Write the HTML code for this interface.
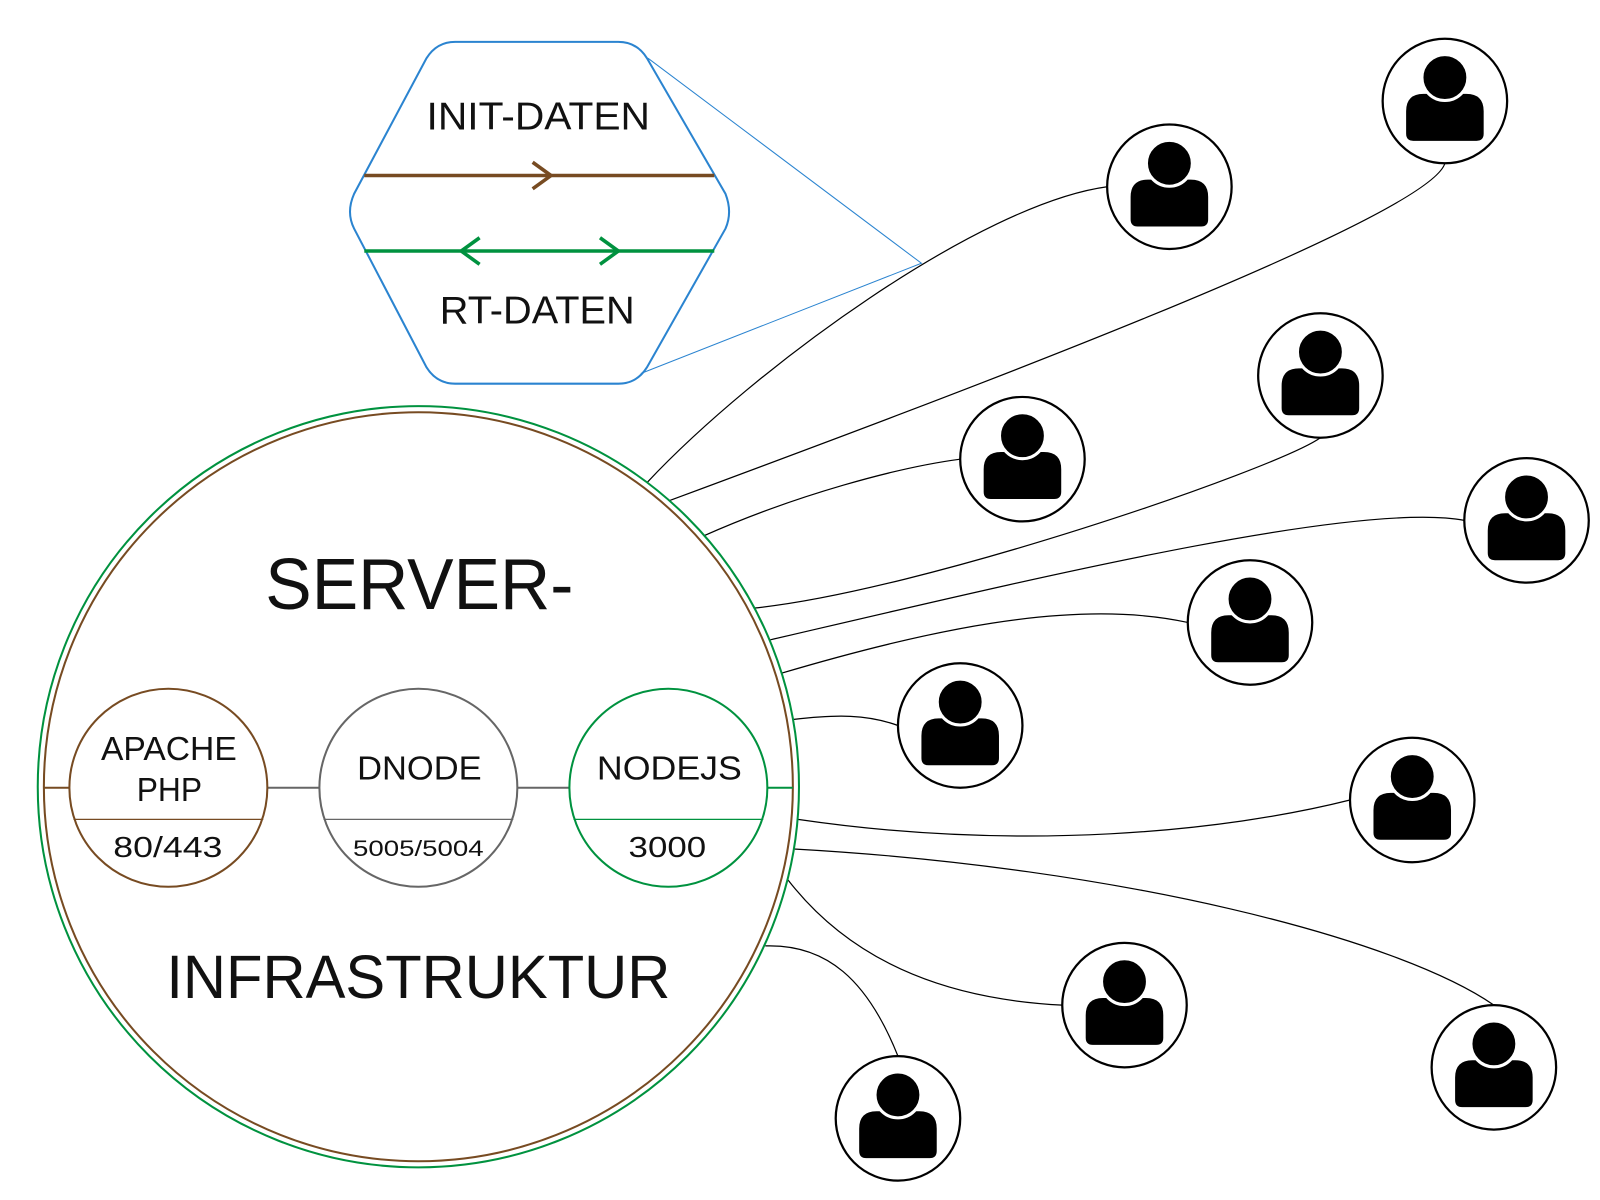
<!DOCTYPE html>
<html><head><meta charset="utf-8"><style>
html,body{margin:0;padding:0;background:#fff;}
svg{display:block;}
text{font-family:"Liberation Sans",sans-serif;fill:#111;}
</style></head><body>
<svg width="1600" height="1200" viewBox="0 0 1568 1176" preserveAspectRatio="none" xmlns="http://www.w3.org/2000/svg">
<defs>
<g id="u">
<circle cx="0" cy="0" r="61" fill="#fff" stroke="#000" stroke-width="2.2"/>
<path d="M-38,34 L-38,10 Q-38,-7 -21,-7 L21,-7 Q38,-7 38,10 L38,32 Q38,39 31,39 L-31,39 Q-38,39 -38,32 Z" fill="#000"/>
<circle cx="0" cy="-23" r="22.5" fill="#000" stroke="#fff" stroke-width="3"/>
</g>
</defs>
<!-- connectors -->
<g fill="none" stroke="#000" stroke-width="1.2">
<path d="M634,473 C740,360 960,200 1085,183"/>
<path d="M655,491 C900,400 1400,215 1416,160"/>
<path d="M690,525 C780,485 880,458 941,450"/>
<path d="M738,596 C900,580 1250,460 1294,429"/>
<path d="M755,627 C1000,570 1330,490 1435,510"/>
<path d="M765,660 C900,620 1050,585 1164,610"/>
<path d="M778,705 C820,700 850,700 880,711"/>
<path d="M782,803 C1000,835 1200,815 1323,784"/>
<path d="M778,832 C1100,850 1370,920 1464,985"/>
<path d="M772,862 C840,950 940,980 1041,985"/>
<path d="M750,927 C810,925 850,960 880,1035"/>
</g>
<!-- hexagon -->
<path d="M446,41 L606,41 Q624,41 634,57 L711,190 Q718,208 711,224 L634,360 Q624,376 606,376 L446,376 Q428,376 418,360 L347,224 Q339,208 347,190 L418,57 Q428,41 446,41 Z" fill="#fff" stroke="#2b84d0" stroke-width="2"/>
<path d="M635,57 L903,258 L628,366" fill="none" stroke="#2b84d0" stroke-width="1"/>
<line x1="357" y1="172" x2="700" y2="172" stroke="#774b22" stroke-width="3.5"/>
<path d="M522,159 L540,172 L522,185" fill="none" stroke="#774b22" stroke-width="3.5"/>
<line x1="357" y1="246" x2="700" y2="246" stroke="#00923f" stroke-width="3.5"/>
<path d="M470,233 L452,246 L470,259 M588,233 L606,246 L588,259" fill="none" stroke="#00923f" stroke-width="3.5"/>
<text x="418" y="127" font-size="38" textLength="219" lengthAdjust="spacingAndGlyphs">INIT-DATEN</text>
<text x="431" y="317" font-size="38" textLength="191" lengthAdjust="spacingAndGlyphs">RT-DATEN</text>
<!-- big circle -->
<circle cx="410" cy="771" r="373" fill="#fff" stroke="#00923f" stroke-width="2"/>
<circle cx="410" cy="771" r="367" fill="none" stroke="#774b22" stroke-width="2"/>
<line x1="43" y1="772" x2="68" y2="772" stroke="#774b22" stroke-width="2"/>
<line x1="262" y1="772" x2="313" y2="772" stroke="#666" stroke-width="2"/>
<line x1="507" y1="772" x2="558" y2="772" stroke="#666" stroke-width="2"/>
<line x1="752" y1="772" x2="777" y2="772" stroke="#00923f" stroke-width="2"/>
<circle cx="165" cy="772" r="97" fill="none" stroke="#774b22" stroke-width="2"/>
<line x1="72" y1="803" x2="258" y2="803" stroke="#774b22" stroke-width="1.3"/>
<circle cx="410" cy="772" r="97" fill="none" stroke="#666" stroke-width="2"/>
<line x1="317" y1="803" x2="503" y2="803" stroke="#666" stroke-width="1.3"/>
<circle cx="655" cy="772" r="97" fill="none" stroke="#00923f" stroke-width="2"/>
<line x1="562" y1="803" x2="748" y2="803" stroke="#00923f" stroke-width="1.3"/>
<text x="99" y="745" font-size="33" textLength="133" lengthAdjust="spacingAndGlyphs">APACHE</text>
<text x="134" y="785" font-size="33" textLength="64" lengthAdjust="spacingAndGlyphs">PHP</text>
<text x="350" y="764" font-size="33" textLength="122" lengthAdjust="spacingAndGlyphs">DNODE</text>
<text x="585" y="764" font-size="33" textLength="142" lengthAdjust="spacingAndGlyphs">NODEJS</text>
<text x="111" y="840" font-size="28" textLength="107" lengthAdjust="spacingAndGlyphs">80/443</text>
<text x="346" y="839" font-size="22" textLength="128" lengthAdjust="spacingAndGlyphs">5005/5004</text>
<text x="616" y="840" font-size="28" textLength="76" lengthAdjust="spacingAndGlyphs">3000</text>
<text x="260" y="597" font-size="71" textLength="302" lengthAdjust="spacingAndGlyphs">SERVER-</text>
<text x="163" y="978" font-size="60" textLength="494" lengthAdjust="spacingAndGlyphs">INFRASTRUKTUR</text>
<!-- users -->
<use href="#u" x="1416" y="99"/>
<use href="#u" x="1146" y="183"/>
<use href="#u" x="1294" y="368"/>
<use href="#u" x="1002" y="450"/>
<use href="#u" x="1496" y="510"/>
<use href="#u" x="1225" y="610"/>
<use href="#u" x="941" y="711"/>
<use href="#u" x="1384" y="784"/>
<use href="#u" x="1102" y="985"/>
<use href="#u" x="1464" y="1046"/>
<use href="#u" x="880" y="1096"/>
</svg>
</body></html>
